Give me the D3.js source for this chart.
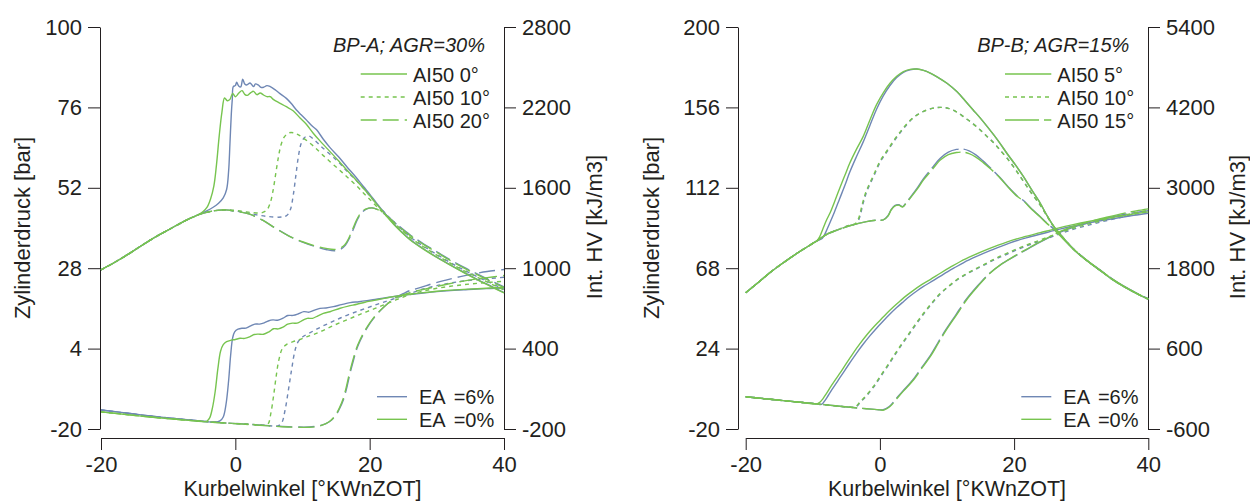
<!DOCTYPE html>
<html>
<head>
<meta charset="utf-8">
<script src="https://cdn.jsdelivr.net/npm/d3@7"></script>
<style>
  body { margin: 0; background: #fff; }
  svg { display: block; background: #fff; }
  text { font-family: "Liberation Sans", Arial, Helvetica, sans-serif; fill: #231f20; }
  .axis text { font-size: 22px; }
  .axis path, .axis line { stroke: #231f20; stroke-width: 1; }
  .title { font-size: 22px; }
  .xtitle { font-size: 21.5px; }
  .legend { font-size: 20px; }
  .ea { word-spacing: 3.5px; }
</style>
</head>
<body>
<svg id="chart" width="1250" height="501"></svg>
<script>
// ---------- axis ticks and labels ----------
const angleTicks = [-20, 0, 20, 40];
const A_pTicks = [-20, 4, 28, 52, 76, 100];
const A_qTicks = [-200, 400, 1000, 1600, 2200, 2800];
const B_pTicks = [-20, 24, 68, 112, 156, 200];
const B_qTicks = [-600, 600, 1800, 3000, 4200, 5400];
const A_caseTitle = "BP-A; AGR=30%";
const B_caseTitle = "BP-B; AGR=15%";
const A_ai50Labels = ["AI50 0°", "AI50 10°", "AI50 20°"];
const B_ai50Labels = ["AI50 5°", "AI50 10°", "AI50 15°"];
const eaLabels = ["EA =6%", "EA =0%"];
const xTitle = "Kurbelwinkel [°KWnZOT]";
const pTitle = "Zylinderdruck [bar]";
const qTitle = "Int. HV [kJ/m3]";

// ---------- BP-A: cylinder pressure [bar] vs crank angle ----------
const A_pComp = [[-20,27.5],[-18,29.7],[-16,32.1],[-14,34.7],[-12,37.2],[-10,39.4],[-8,41.6],[-6.5,43.1]];

const A_p0_ea6 = A_pComp.concat([[-5.5,44.0],[-4.5,44.9],[-3.3,46.2],[-2.5,47.4],[-1.8,49.0],[-1.3,51.5],[-1.0,57.0],[-0.8,65.3],[-0.6,74.0],[-0.45,78.5],[-0.3,82.2],[0,82.5],[0.2,83.5],[0.5,82.4],[0.8,82.1],[1.1,84.4],[1.4,83.0],[1.7,82.7],[2.2,83.3],[2.7,82.2],[3.0,83.0],[3.4,82.7],[3.8,82.0],[4.2,82.0],[4.7,82.5],[5.2,82.2],[5.9,81.3],[6.6,80.2],[7.6,78.7],[8.4,77.0],[9.1,75.2],[9.8,73.8],[10.6,72.2],[11.4,70.5],[12.1,69.3],[13.1,66.5],[14.1,64.0],[15.4,61.2],[16.6,58.3],[17.9,55.3],[19.1,52.3],[20,50.1],[21,47.5],[22,45.0],[23,42.6],[24,40.4],[26,36.6],[28,33.8],[30,31.3],[32,29.0],[34,26.8],[36,24.7],[38,22.7],[40,20.7]]);

const A_p0_ea0 = A_pComp.concat([[-5.5,44.0],[-4.8,44.9],[-4.2,46.2],[-3.7,48.6],[-3.2,52.5],[-2.8,59.0],[-2.4,67.5],[-2.0,74.5],[-1.6,78.8],[-1.2,78.0],[-0.8,78.4],[-0.4,80.2],[0,79.2],[0.5,80.2],[1.0,81.0],[1.4,79.9],[1.8,79.6],[2.3,80.4],[2.7,80.8],[3.2,79.8],[3.7,80.3],[4.2,79.7],[4.7,79.2],[5.2,79.2],[5.7,78.3],[6.6,77.3],[7.6,76.2],[8.6,75.0],[9.6,72.9],[10.6,70.9],[11.6,68.3],[12.6,66.0],[14.1,62.8],[15.4,60.0],[16.6,57.3],[17.9,54.5],[19.1,51.8],[20,49.7],[21,47.2],[22,44.8],[23,42.4],[24,40.2],[26,36.5],[28,33.7],[30,31.2],[32,28.9],[34,26.7],[36,24.6],[38,22.6],[40,20.6]]);

const A_p10_ea6 = A_pComp.concat([[-5,44.3],[-3,45.2],[-1,45.3],[1,44.8],[3,44.0],[5,43.4],[7,43.3],[7.7,43.8],[8.2,45.5],[8.6,49.5],[9.0,55.5],[9.4,61.5],[9.8,65.2],[10.3,67.0],[10.9,67.5],[11.6,66.6],[12.8,64.3],[14.1,62.0],[15.4,59.6],[16.6,57.0],[17.9,54.4],[19.1,51.8],[20,49.6],[21,47.3],[22,45.1],[23,43.0],[24,41.1],[26,37.4],[28,34.6],[30,32.1],[32,29.7],[34,27.5],[36,25.5],[38,23.6],[40,21.7]]);

const A_p10_ea0 = A_pComp.concat([[-5,44.3],[-3,45.2],[-1,45.4],[1,45.0],[2.5,44.6],[4,44.6],[4.7,45.4],[5.2,47.5],[5.6,51.0],[6.0,56.0],[6.4,61.0],[6.8,64.8],[7.3,67.2],[8.0,68.4],[8.7,68.4],[9.4,67.8],[10.5,66.3],[11.6,64.5],[12.8,62.2],[14.1,59.8],[15.4,57.5],[16.6,55.3],[17.9,52.9],[19.1,50.4],[20,48.6],[21,46.5],[22,44.5],[23,42.6],[24,40.8],[26,37.2],[28,34.4],[30,31.9],[32,29.5],[34,27.3],[36,25.3],[38,23.4],[40,21.5]]);

const A_p20_ea6 = A_pComp.concat([[-5,44.3],[-3,45.2],[-1.5,45.4],[0,45.0],[2,44.2],[4,42.4],[6,39.9],[8,37.6],[10,35.8],[12,34.4],[13.5,33.6],[14.8,33.2],[15.7,33.7],[16.4,34.9],[17.0,37.0],[17.6,39.8],[18.2,42.6],[18.8,44.5],[19.5,45.6],[20.4,46.0],[21.3,45.4],[22,44.6],[23,42.9],[24,41.2],[26,38.0],[28,35.3],[30,32.9],[32,30.5],[34,28.3],[36,26.3],[38,24.3],[40,22.4]]);

const A_p20_ea0 = A_pComp.concat([[-5,44.3],[-3,45.2],[-1.5,45.4],[0,45.0],[2,44.2],[4,42.4],[6,39.9],[8,37.6],[10,35.9],[12,34.6],[13.5,33.9],[14.8,33.6],[15.6,34.0],[16.3,35.0],[16.9,37.0],[17.5,39.8],[18.1,42.6],[18.7,44.5],[19.4,45.6],[20.3,46.0],[21.2,45.5],[22,44.5],[23,42.8],[24,41.0],[26,37.8],[28,35.1],[30,32.7],[32,30.3],[34,28.1],[36,26.1],[38,24.1],[40,22.2]]);

// ---------- BP-A: integrated heat release [kJ/m3] ----------
const A_qBase_ea6 = [[-20,-58],[-17,-76],[-14,-95],[-11,-112],[-8,-127],[-6,-137],[-4.5,-144]];
const A_qBase_ea0 = [[-20,-72],[-17,-88],[-14,-104],[-11,-118],[-8,-131],[-6,-139],[-4.5,-145]];

const A_q0_ea6 = A_qBase_ea6.concat([[-3,-150],[-2.3,-140],[-1.8,-110],[-1.4,-20],[-1.0,160],[-0.7,350],[-0.4,480],[-0.1,525],[0.4,545],[1.0,552],[1.6,553],[2.2,567],[2.9,583],[3.6,583],[4.3,592],[4.9,606],[5.6,614],[6.3,612],[7.1,627],[7.8,647],[8.6,648],[9.4,660],[10.2,676],[11.0,672],[11.8,687],[12.6,700],[13.5,703],[14.6,713],[15.8,728],[17.1,743],[18.4,750],[19.6,758],[20.8,767],[22,776],[23.3,786],[24.5,795],[26,804],[28,815],[30,825],[32,833],[34,839],[36,845],[38,849],[40,853]]);

const A_q0_ea0 = A_qBase_ea0.concat([[-4.2,-140],[-3.8,-115],[-3.4,-40],[-3.0,80],[-2.6,250],[-2.2,380],[-1.8,430],[-1.3,452],[-0.6,463],[0,468],[0.7,477],[1.4,476],[2.2,490],[2.8,505],[3.4,508],[4.2,507],[5.0,525],[5.7,548],[6.4,547],[7.1,560],[7.8,582],[8.5,590],[9.2,590],[10.0,610],[10.7,626],[11.5,626],[12.3,645],[13.1,663],[14.1,675],[15.6,701],[16.8,717],[18.1,731],[19.3,746],[20.5,758],[21.8,771],[23,783],[24.5,795],[26,806],[28,818],[30,828],[32,836],[34,842],[36,847],[38,852],[40,856]]);

const A_q10_ea6 = A_qBase_ea6.concat([[-3,-150],[-1,-156],[1,-162],[3,-168],[5,-175],[6.3,-178],[6.9,-155],[7.4,-60],[7.9,90],[8.4,250],[8.9,390],[9.4,455],[10.1,490],[11.0,515],[12.1,545],[13.3,575],[14.6,605],[15.8,632],[17.1,658],[18.4,682],[19.6,704],[20.8,725],[22,745],[23.5,770],[25,795],[26.5,820],[28,845],[30,870],[32,889],[34,904],[36,915],[38,924],[40,932]]);

const A_q10_ea0 = A_qBase_ea0.concat([[-3,-150],[-1,-156],[1,-162],[3,-168],[4.4,-172],[4.9,-160],[5.3,-80],[5.7,50],[6.1,200],[6.5,320],[7.0,400],[7.6,430],[8.6,452],[9.6,468],[10.6,488],[11.6,505],[12.6,525],[13.6,548],[14.6,572],[15.8,598],[17.1,625],[18.4,652],[19.6,676],[20.8,700],[22,724],[23.5,755],[25,785],[26.5,810],[28,830],[30,850],[32,865],[34,877],[36,887],[38,895],[40,902]]);

const A_q20_ea6 = A_qBase_ea6.concat([[-3,-150],[-1,-156],[1,-162],[3,-168],[5,-175],[7,-181],[9,-185],[11,-185],[12.5,-176],[13.5,-160],[14.3,-135],[15,-95],[15.6,-40],[16.1,20],[16.6,110],[17.1,220],[17.6,315],[18.1,400],[18.6,460],[19.1,510],[19.8,570],[20.5,620],[21.3,668],[22,705],[23,750],[24,785],[25,810],[26,833],[27.5,855],[29.5,887],[31.5,913],[33.5,937],[35.5,958],[37.5,975],[40,990]]);

const A_q20_ea0 = A_qBase_ea0.concat([[-3,-151],[-1,-157],[1,-163],[3,-170],[5,-177],[7,-183],[9,-187],[11,-187],[12.5,-178],[13.4,-162],[14.2,-137],[14.9,-97],[15.5,-42],[16.0,18],[16.5,108],[17.0,218],[17.5,313],[18.0,398],[18.5,458],[19.0,508],[19.7,568],[20.4,618],[21.2,666],[22,705],[23,748],[24,780],[25,800],[26,818],[27.5,836],[29.5,858],[31.5,880],[33.5,900],[35.5,917],[37.5,930],[40,945]]);

// ---------- BP-B: cylinder pressure [bar] ----------
const B_pComp = [[-20,54.6],[-18,60.6],[-16,66.7],[-14,72.0],[-12,77.0],[-10,81.6],[-9.4,83.0]];

const B_p5_ea6 = B_pComp.concat([[-8.6,84.3],[-8.1,87.5],[-7.5,92.5],[-6.8,98.5],[-6.0,106],[-5.2,113.5],[-4.5,120.5],[-3.5,129],[-2.5,137],[-1.5,146],[-0.5,155],[0.5,162.3],[1.5,168],[2.5,172.3],[3.5,175.2],[4.5,176.6],[5.5,177.0],[6.5,176.3],[7.5,174.8],[8.7,172.3],[10,169.2],[11.5,164.5],[12.7,159.6],[13.9,154.6],[15,150],[16,145.5],[17,140.8],[17.9,136.3],[19,130.5],[20.2,124.5],[21.4,118.1],[22.6,111],[23.9,103.5],[24.8,97.5],[25.8,91.5],[27,86],[28.8,78.5],[30.7,72.5],[32.8,66.8],[34.5,62.2],[36.3,58.0],[38.2,54.2],[40,51.0]]);

const B_p5_ea0 = B_pComp.concat([[-9.0,85.0],[-8.5,89.5],[-8.0,94.0],[-7.4,98.5],[-6.8,104.0],[-5.9,112.6],[-5.2,119],[-4.5,125.4],[-3.5,133],[-2.5,140.0],[-1.5,149],[-0.5,157.5],[0.5,164],[1.5,169.2],[2.5,173],[3.5,175.6],[4.5,176.8],[5.5,177.0],[6.5,176.3],[7.5,174.8],[8.7,172.3],[10,169.2],[11.5,164.5],[12.7,159.6],[13.9,154.6],[15,150],[16,145.5],[17,140.8],[17.9,136.3],[19,130.5],[20.2,124.5],[21.4,118.1],[22.6,111],[23.9,103.5],[24.8,97.5],[25.8,91.5],[27,86],[28.8,78.5],[30.7,72.5],[32.8,66.8],[34.5,62.2],[36.3,58.0],[38.2,54.2],[40,51.0]]);

const B_p10_ea6 = B_pComp.concat([[-8,86.4],[-6,89.4],[-4.5,91.5],[-3.6,92.2],[-3.1,95],[-2.5,103.5],[-1.9,110.5],[-0.9,118.5],[0.1,126.5],[1.1,132],[2.1,137.5],[3.1,142.5],[4.1,147],[5.2,151],[6.5,153.8],[7.8,155.5],[9,156],[10.2,155.5],[11.4,153.6],[12.6,150.5],[13.9,147],[15,143.5],[16,140],[17,136.5],[17.9,132.7],[19,128],[20.2,122],[21.4,115.5],[22.6,109],[23.9,102.5],[24.8,97.2],[25.8,91.3],[27,86],[28.8,78.6],[30.7,72.6],[32.8,66.9],[34.5,62.3],[36.3,58.1],[38.2,54.3],[40,51.1]]);

const B_p10_ea0 = B_pComp.concat([[-8,86.4],[-6,89.4],[-4.5,91.5],[-3.7,92.2],[-3.2,95],[-2.6,103.5],[-2,110.5],[-1,118.5],[0,126.5],[1,132],[2,137.5],[3,142.5],[4,147],[5.2,151],[6.5,153.8],[7.8,155.5],[9,156],[10.2,155.5],[11.4,153.6],[12.6,150.5],[13.9,147],[15,143.5],[16,140],[17,136.5],[17.9,132.7],[19,128],[20.2,122],[21.4,115.5],[22.6,109],[23.9,102.5],[24.8,97.2],[25.8,91.3],[27,86],[28.8,78.6],[30.7,72.6],[32.8,66.9],[34.5,62.3],[36.3,58.1],[38.2,54.3],[40,51.1]]);

const B_p15_ea6 = B_pComp.concat([[-8,86.4],[-6,89.4],[-4,91.8],[-2,93.5],[-0.5,94.3],[0.5,94.4],[1.2,96.7],[1.7,100.2],[2.2,102.2],[2.8,102.7],[3.4,101.7],[3.9,103.8],[4.5,106.6],[5.5,111.5],[6.5,117],[7.7,122.5],[9,128.2],[10.2,131.5],[11.4,133],[12.4,133.2],[13.3,132.2],[14.3,130],[15.4,126.6],[16.6,122.4],[17.9,117.6],[19.2,112.2],[20.5,107.4],[21.4,105],[22.6,100.5],[23.9,96.2],[24.8,93],[25.8,89.8],[26.8,86.2],[28,81.6],[28.8,78.8],[30.7,72.8],[32.8,67.1],[34.5,62.5],[36.3,58.3],[38.2,54.5],[40,51.3]]);

const B_p15_ea0 = B_pComp.concat([[-8,86.4],[-6,89.4],[-4,91.8],[-2,93.5],[-0.5,94.3],[0.5,94.4],[1.2,96.5],[1.7,100],[2.2,102.0],[2.8,102.5],[3.4,101.5],[3.9,103.5],[4.5,106.3],[5.5,111],[6.5,116.3],[7.7,121.5],[9,127.2],[10.2,130.2],[11.4,131.3],[12.4,131.5],[13.3,130.7],[14.3,128.8],[15.4,125.8],[16.6,122],[17.9,117.4],[19.2,112],[20.5,107.2],[21.4,104.8],[22.6,100.3],[23.9,96],[24.8,92.8],[25.8,89.6],[26.8,86],[28,81.5],[28.8,78.7],[30.7,72.7],[32.8,67],[34.5,62.4],[36.3,58.2],[38.2,54.4],[40,51.2]]);

// ---------- BP-B: integrated heat release [kJ/m3] ----------
const B_qBase = [[-20,-118],[-17,-150],[-14,-180],[-11.5,-205],[-9.4,-225]];

const B_q5_ea6 = B_qBase.concat([[-8.7,-232],[-8.3,-190],[-7.7,-100],[-7.0,10],[-6.2,130],[-5.4,250],[-4.5,385],[-3.5,530],[-2.5,665],[-1.5,790],[-0.5,905],[0.5,1012],[1.5,1115],[2.5,1212],[3.5,1300],[4.5,1385],[5.5,1460],[6.5,1528],[8,1618],[9.5,1712],[11,1800],[12.5,1885],[14.4,1975],[16.5,2065],[19.3,2175],[21.8,2252],[24.3,2318],[26.8,2383],[29.2,2438],[31.6,2486],[34,2527],[36.5,2568],[38.3,2595],[40,2620]]);

const B_q5_ea0 = B_qBase.concat([[-9.0,-205],[-8.5,-150],[-8.0,-75],[-7.4,20],[-6.6,140],[-5.9,240],[-5.0,380],[-4.0,530],[-3.0,670],[-2.0,800],[-1.0,915],[0,1020],[1,1125],[2,1222],[3,1310],[4,1395],[5,1470],[6,1540],[7.5,1630],[9,1725],[10.5,1815],[12,1900],[13.9,1990],[16,2080],[18.9,2190],[21.4,2265],[23.9,2330],[26.4,2395],[28.8,2450],[31.3,2500],[33.8,2545],[36.3,2585],[38.2,2615],[40,2640]]);

const B_q10_ea6 = B_qBase.concat([[-8,-240],[-6,-260],[-4.4,-276],[-3.6,-270],[-2.9,-200],[-1.9,-95],[-0.9,31],[0.1,180],[1.6,405],[2.8,590],[4.1,778],[5.3,950],[6.6,1127],[7.9,1290],[9.1,1425],[10.3,1530],[11.5,1624],[12.7,1700],[14,1770],[15.6,1850],[17.3,1938],[19,2012],[21.5,2120],[24,2210],[26.5,2302],[28.9,2383],[31.4,2450],[33.9,2513],[36.4,2570],[38.2,2608],[40,2645]]);

const B_q10_ea0 = B_qBase.concat([[-8,-240],[-6,-260],[-4.5,-276],[-3.7,-272],[-3.0,-200],[-2.0,-95],[-1.0,31],[0,180],[1.5,405],[2.7,590],[4.0,778],[5.2,950],[6.5,1127],[7.8,1290],[9.0,1425],[10.2,1530],[11.4,1624],[12.6,1700],[13.9,1773],[15.5,1855],[17.2,1945],[18.9,2022],[21.4,2130],[23.9,2221],[26.4,2315],[28.8,2396],[31.3,2465],[33.8,2530],[36.3,2590],[38.2,2630],[40,2665]]);

const B_q15_ea6 = B_qBase.concat([[-8,-240],[-6,-260],[-4,-280],[-2,-298],[-0.2,-312],[0.4,-314],[1.4,-265],[2.4,-150],[3.4,-35],[4.9,131],[6.1,300],[7.4,479],[8.6,680],[9.8,878],[11.3,1100],[12.8,1325],[14.5,1530],[16.3,1720],[18,1852],[19.8,1962],[21.8,2075],[23.8,2185],[25.4,2268],[26.7,2330],[28.9,2415],[31.2,2478],[33.7,2542],[36.2,2598],[38.2,2632],[40,2660]]);

const B_q15_ea0 = B_qBase.concat([[-8,-240],[-6,-260],[-4,-280],[-2,-298],[0,-314],[0.6,-318],[1.5,-265],[2.5,-150],[3.5,-35],[5.0,131],[6.2,300],[7.5,479],[8.7,680],[9.9,878],[11.4,1100],[12.9,1325],[14.6,1530],[16.4,1724],[18.1,1860],[19.9,1972],[21.9,2085],[23.9,2196],[25.5,2280],[26.8,2345],[29,2430],[31.3,2494],[33.8,2560],[36.3,2619],[38.2,2655],[40,2685]]);

// ---------- styling ----------
const eaColor = { ea6: "#6f87b4", ea0: "#77c44f" };
const TOP = 27, BOTTOM = 429, XAXIS_Y = 438;

const panels = [
  {
    plotLeft: 101, plotRight: 504, axisLeft: 100, axisRight: 504,
    pTicks: A_pTicks, qTicks: A_qTicks, caseTitle: A_caseTitle, ai50Labels: A_ai50Labels,
    dash: { solid: null, dot: "4,4", dash: "16,6" },
    pTitleX: 29.5, qTitleX: 601.5,
    series: [
      { v: A_p0_ea6, axis: "p", ea: "ea6", style: "solid" },
      { v: A_p10_ea6, axis: "p", ea: "ea6", style: "dot" },
      { v: A_p20_ea6, axis: "p", ea: "ea6", style: "dash" },
      { v: A_q0_ea6, axis: "q", ea: "ea6", style: "solid" },
      { v: A_q10_ea6, axis: "q", ea: "ea6", style: "dot" },
      { v: A_q20_ea6, axis: "q", ea: "ea6", style: "dash" },
      { v: A_p0_ea0, axis: "p", ea: "ea0", style: "solid" },
      { v: A_p10_ea0, axis: "p", ea: "ea0", style: "dot" },
      { v: A_p20_ea0, axis: "p", ea: "ea0", style: "dash" },
      { v: A_q0_ea0, axis: "q", ea: "ea0", style: "solid" },
      { v: A_q10_ea0, axis: "q", ea: "ea0", style: "dot" },
      { v: A_q20_ea0, axis: "q", ea: "ea0", style: "dash" }
    ]
  },
  {
    plotLeft: 745.7, plotRight: 1148.3, axisLeft: 738, axisRight: 1148,
    pTicks: B_pTicks, qTicks: B_qTicks, caseTitle: B_caseTitle, ai50Labels: B_ai50Labels,
    dash: { solid: null, dot: "4,4", dash: "34,5" },
    pTitleX: 659, qTitleX: 1245,
    series: [
      { v: B_p5_ea6, axis: "p", ea: "ea6", style: "solid" },
      { v: B_p10_ea6, axis: "p", ea: "ea6", style: "dot" },
      { v: B_p15_ea6, axis: "p", ea: "ea6", style: "dash" },
      { v: B_q5_ea6, axis: "q", ea: "ea6", style: "solid" },
      { v: B_q10_ea6, axis: "q", ea: "ea6", style: "dot" },
      { v: B_q15_ea6, axis: "q", ea: "ea6", style: "dash" },
      { v: B_p5_ea0, axis: "p", ea: "ea0", style: "solid" },
      { v: B_p10_ea0, axis: "p", ea: "ea0", style: "dot" },
      { v: B_p15_ea0, axis: "p", ea: "ea0", style: "dash" },
      { v: B_q5_ea0, axis: "q", ea: "ea0", style: "solid" },
      { v: B_q10_ea0, axis: "q", ea: "ea0", style: "dot" },
      { v: B_q15_ea0, axis: "q", ea: "ea0", style: "dash" }
    ]
  }
];

const svg = d3.select("#chart");
const fmt = d => String(d);

function styleAxis(sel) {
  sel.attr("font-size", null).attr("font-family", null);
}

panels.forEach(p => {
  const x = d3.scaleLinear().domain([-20, 40]).range([p.plotLeft, p.plotRight]);
  const yP = d3.scaleLinear().domain(d3.extent(p.pTicks)).range([BOTTOM, TOP]);
  const yQ = d3.scaleLinear().domain(d3.extent(p.qTicks)).range([BOTTOM, TOP]);
  const g = svg.append("g");

  // axes
  g.append("g").attr("class", "axis").attr("transform", `translate(0,${XAXIS_Y})`)
    .call(d3.axisBottom(x).tickValues(angleTicks).tickFormat(fmt).tickSize(12).tickSizeOuter(0).tickPadding(6))
    .call(styleAxis);
  g.append("g").attr("class", "axis").attr("transform", `translate(${p.axisLeft},0)`)
    .call(d3.axisLeft(yP).tickValues(p.pTicks).tickFormat(fmt).tickSize(12).tickSizeOuter(0).tickPadding(6))
    .call(styleAxis);
  g.append("g").attr("class", "axis").attr("transform", `translate(${p.axisRight},0)`)
    .call(d3.axisRight(yQ).tickValues(p.qTicks).tickFormat(fmt).tickSize(12).tickSizeOuter(0).tickPadding(6))
    .call(styleAxis);

  // axis titles
  const cx = (p.plotLeft + p.plotRight) / 2;
  g.append("text").attr("class", "xtitle").attr("x", cx).attr("y", 496.3)
    .attr("text-anchor", "middle").text(xTitle);
  g.append("text").attr("class", "title").attr("text-anchor", "middle")
    .attr("transform", `translate(${p.pTitleX},228) rotate(-90)`).text(pTitle);
  g.append("text").attr("class", "title").attr("text-anchor", "middle")
    .attr("transform", `translate(${p.qTitleX},227) rotate(-90)`).text(qTitle);

  // curves
  const lineP = d3.line().x(d => x(d[0])).y(d => yP(d[1])).curve(d3.curveCatmullRom.alpha(0.5));
  const lineQ = d3.line().x(d => x(d[0])).y(d => yQ(d[1])).curve(d3.curveCatmullRom.alpha(0.5));
  g.append("g").selectAll("path").data(p.series).join("path")
    .attr("d", s => (s.axis === "p" ? lineP : lineQ)(s.v))
    .attr("fill", "none")
    .attr("stroke", s => eaColor[s.ea])
    .attr("stroke-width", 1.4)
    .attr("stroke-linejoin", "round")
    .attr("stroke-dasharray", s => p.dash[s.style]);

  // legend: operating point and AI50 line styles
  const R = p.plotRight;
  g.append("text").attr("class", "legend").attr("x", R - 19).attr("y", 51.5)
    .attr("text-anchor", "end").style("font-style", "italic").text(p.caseTitle);
  const styles = ["solid", "dot", "dash"];
  p.ai50Labels.forEach((lab, i) => {
    const y = 74 + i * 23;
    g.append("line").attr("x1", R - 143.3).attr("x2", R - 97).attr("y1", y).attr("y2", y)
      .attr("stroke", eaColor.ea0).attr("stroke-width", 1.4)
      .attr("stroke-dasharray", p.dash[styles[i]]);
    g.append("text").attr("class", "legend").attr("x", R - 91).attr("y", y + 8).text(lab);
  });
  // legend: EA colours
  ["ea6", "ea0"].forEach((k, i) => {
    const y = 396.7 + i * 22.6;
    g.append("line").attr("x1", R - 127).attr("x2", R - 97).attr("y1", y).attr("y2", y)
      .attr("stroke", eaColor[k]).attr("stroke-width", 1.4);
    g.append("text").attr("class", "legend ea").attr("x", R - 85).attr("y", y + 7.4).text(eaLabels[i]);
  });
});
</script>
</body>
</html>
